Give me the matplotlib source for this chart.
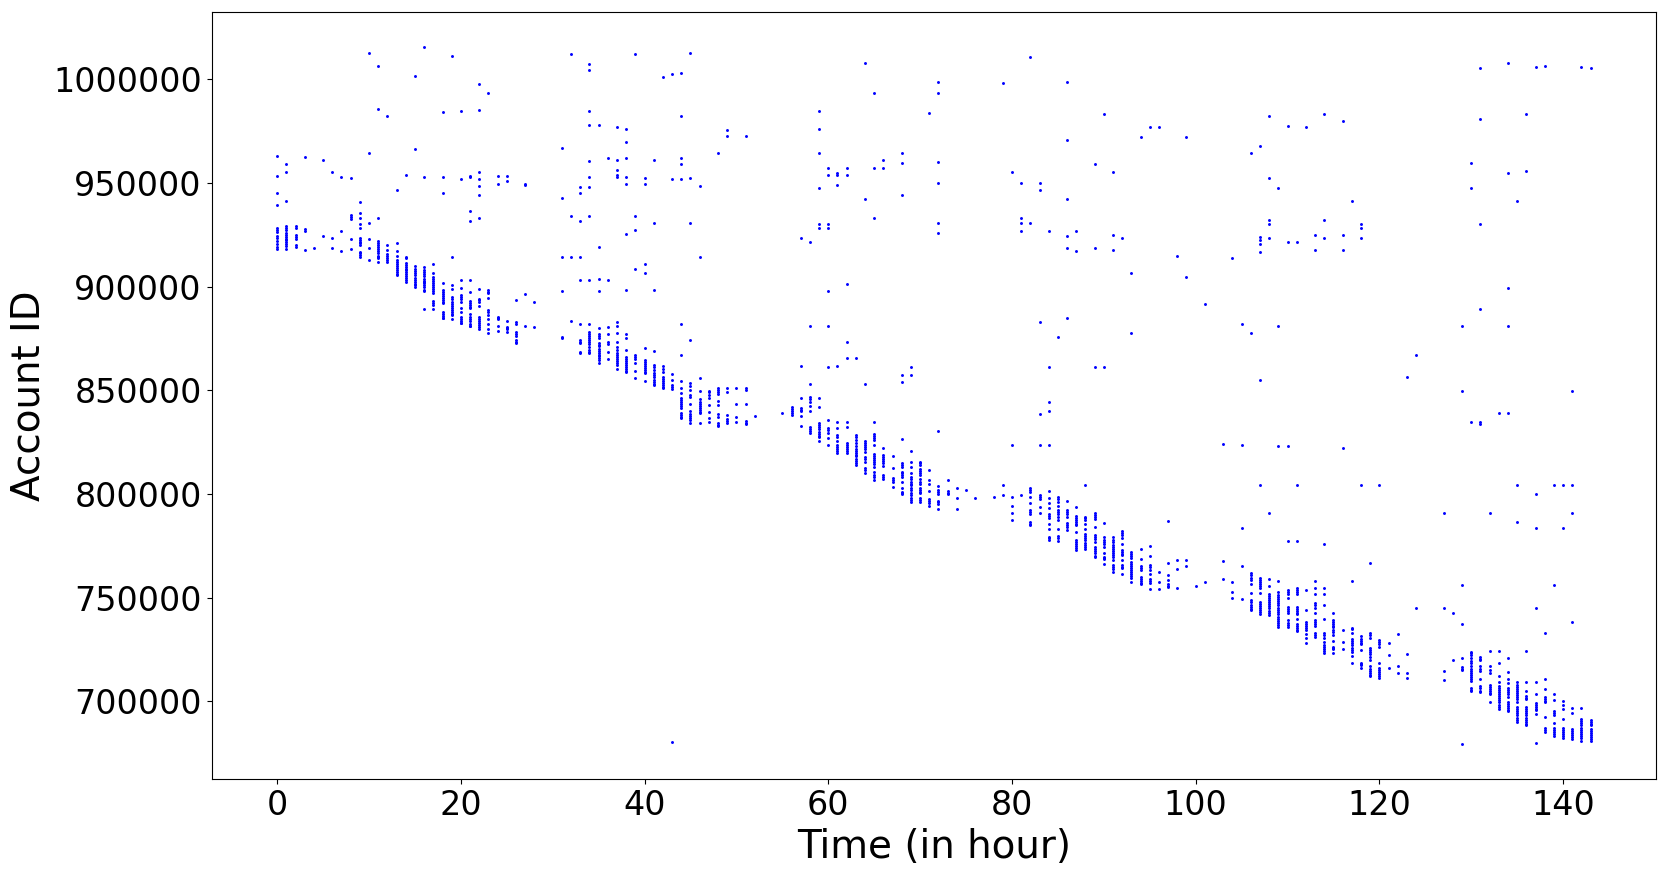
import matplotlib
matplotlib.use("Agg")
import matplotlib.pyplot as plt

# Account IDs in thousands, one list per hour
h0 = [962.9,953.2,945,939.3,928.3,927.3,926.2,924.6,923.5,922.2,920.4,919.3,918.3]
h1 = [959,955.2,941.2,929.3,928.3,927.2,926.1,925,924,923,922.5,921.4,920.5,919.5,918.2]
h2 = [929.2,928.5,925,924,923,919.9,919.3]
h3 = [962.4,927.7,926.6,917.5]
h4 = [918.5]
h5 = [961,924.3]
h6 = [955.2,923.3,918.5]
h7 = [952.8,926.7,917]
h8 = [952.3,934.4,933.6,932.8,922.8,918]
h9 = [940.7,935.4,933,930,928.1,923.3,922.4,921.5,920.8,920.1,916.9,916,915.2,914.5]
h10 = [1012.5,964.3,930.6,922.8,918.5,912.7]
h11 = [1006.3,985.5,933,922,921,920,919,918,917,916,915,914.2,913.7,911.7]
h12 = [982.2,920,917.5,915.6,914.6,913.6,912.7,911.8]
h13 = [946.5,920.9,917.4,914.6,912.9,912,911,910,909,908,907,906,905.5]
h14 = [953.7,914.5,913.7,911.6,910.6,909.6,908.6,907.8,907.2,906,905,904,903.2,902.4]
h15 = [1001.4,966.3,909.8,908.4,907.4,906.4,905.4,904.4,903.4,902.4,901.4,900.6,900]
h16 = [1015.4,952.8,909.3,907.9,906.9,905.9,904.9,903.9,902.9,902.4,901.6,900.6,899.6,898.6,898,889]
h17 = [910.8,906.4,904.8,903.8,902.8,901.8,900.8,899.8,898.8,897.8,896.8,893.3,892.2,891.2,889.1]
h18 = [984,952.8,945,901.6,898.4,897.4,896.4,895.4,894.4,893.4,892.4,892,888,887,886,885,884.8]
h19 = [1011,914.2,900.7,898.7,895,894,892.8,891.7,890.7,889.7,888.7,887.7,886.7,886.4,884.3]
h20 = [984.6,951.8,903,899.2,896,895,894,892.8,889.6,887.6,885.5,884.5,883.5,882.6,882.3]
h21 = [953.5,953,936.3,931.5,903,897.3,893.3,892.3,891.3,890.3,889.6,886.7,885.2,884.2,883.2,882.2,881.2,881]
h22 = [997.6,985,955.2,951.8,948.4,944.1,933,898.7,894.2,893.4,892.8,890.5,885.5,884.5,883.5,882.5,881.5,880.7,879.5]
h23 = [993.2,898.4,897.6,896.8,894.4,888.8,887.6,886.4,884.3,881.9,879.5,877.5]
h24 = [953.2,949.4,885.5,884.9,884.3,880.9,878.5]
h25 = [953.2,950.8,883.3,880.7,880,879.5,878]
h26 = [893.4,882.8,882.2,878,877.2,876.4,874.3,873.5,872.7]
h27 = [949.4,949,896.3,880.9]
h28 = [892.5,880.4]
h31 = [966.7,942.6,914.2,897.8,875.6,875]
h32 = [1012,934,914.2,883.3]
h33 = [947.9,945,931.5,914.2,903.1,881.9,874.3,873.5,872.7,868.7,868]
h34 = [1007.2,1004.3,984.6,977.8,960.5,952.8,947.9,934,903.1,881.9,878.3,877.3,876.3,875.3,874.3,873.3,872.3,871.1,869.5,868.7,867.9]
h35 = [977.8,919,903.6,897.8,880,877,876,875.1,872.7,872,871.4,869.8,869,868,867.2,866.6,865.5,864.5,863.4]
h36 = [961.9,903.1,880.4,877,873.5,872.4,868.4,865]
h37 = [976.9,960.9,956.1,953.9,952.8,882.8,880.9,877.5,873.5,871.1,869.2,868.2,867.2,866.2,865.2,864.2,863.2,862.3,860.2]
h38 = [975.9,969.6,961.9,952.8,949.4,925.6,898.3,877,875.1,869.3,866.3,865.3,864.3,863.3,862.3,861.3,860.3,859.3,858.6]
h39 = [1012,934,927.2,908.4,867,866,865,863,859.5,855.8]
h40 = [952.3,949.4,910.8,906.5,870.3,864.7,863.7,862.7,861.7,860.7,859.7,858.7,858.2,854.6]
h41 = [960.9,930.6,898.3,868.9,862.3,861.2,859.9,858.2,857.2,856.2,855.2,854.2,853.2,852.6]
h42 = [1001,861.5,860.2,859,856.6,855.6,854.6,853.6,852.6,851.6,851]
h43 = [1002.4,951.8,857.8,855,852.6,851.5,850.5,680.5]
h44 = [1002.9,982.2,961.9,959,951.8,881.9,867,854.7,851.3,848.6,846.2,845.2,844.2,843.2,842.2,841.4,839,838,837,836.6]
h45 = [1012.5,952.3,930.6,874.2,853.4,852.3,850,847.8,847,843.5,839.8,838.8,837.8,836.8,835.7,834.1]
h46 = [948.4,914.2,855.8,849.6,845.7,844.6,843.6,842.6,841.6,840.6,839.6,839,834.1]
h47 = [849.9,849,847.8,846.2,843,839.4,836.6,834.6]
h48 = [964.3,851,850,849,848.1,844.7,842.8,838.5,837.3,834.1,833.5,833]
h49 = [975.4,972.5,851,849.1,838,836,835,834.1]
h50 = [851,843.3,837,834.6]
h51 = [972.5,851,850,843.3,835.1,834.4,833.7]
h52 = [837.5]
h55 = [838.9]
h56 = [841.9,841,840,839,838.2]
h57 = [923.3,861.6,846.5,841.4,840.6,839.8,837.8,832.7]
h58 = [921.4,880.9,852.9,847,845.9,844.3,842.3,839.8,832.5,831.5,830.5,829.6]
h59 = [984.6,975.9,964.3,947.4,930.1,928.2,846.2,841.9,834.1,833.1,832.1,831.1,830.1,829.1,828.1,827.7,825.5]
h60 = [957.1,953.7,930.1,928.2,897.8,880.9,861.2,835.6,831.7,830.7,829.3,826.9,823.7]
h61 = [954.7,953.7,948.9,861.6,834.6,831.7,828.5,827.4,825.5,823.7,822.7,821.7,820.7,819.7]
h62 = [957.1,953.7,901.2,873.2,865.5,834.6,832.2,824.5,823.5,822.5,821.5,820.5,820]
h63 = [865.5,828.5,827.5,826.1,824.5,822.9,821.6,820.6,819.6,818.6,818.1,816.8,815.8,814.8,814.1]
h64 = [1007.7,942.1,852.9,825.5,824.5,823.5,822.5,821.5,820.4,818,816.8,815.6,812.4,811.4,810.3]
h65 = [993.2,957.1,933,834.5,828.9,828,827,826,823.5,819.3,818.3,817.3,816.3,815.3,814.3,813.2,810.8,809.2,808,806.8]
h66 = [960.9,957.1,822,818.8,817.8,816.8,815.8,814.8,813.5,809.3,808.2,807.1]
h67 = [818.2,812.4,807.6,806.6,805.6,803.2]
h68 = [964.3,959.5,944.1,857.2,853.8,826.4,814.8,814,813.2,810.8,810,809.2,808.4,805.6,802.7,801.1,800.5,799.8]
h69 = [861.2,857.2,820.6,815.3,812.9,810,808,807,806,805,804.3,802.7,801.7,800.7,799.5,797.9,797,796.3]
h70 = [815.6,814.8,814,811.9,811,810,809.2,807,806,804.8,803,802,801,800.3,798.2,797,796]
h71 = [983.6,811.4,806.6,804.7,801.4,797.4,796.4,795.5,794]
h72 = [998.6,993.2,960,949.9,930.6,925.8,830.2,803.7,801.9,800.9,799.8,796.6,795.9,795.2,792.6]
h73 = [806.6,801.4,800.6,799.8]
h74 = [802.7,797.9,792.6]
h75 = [801.8]
h76 = [797.9]
h78 = [798.4]
h79 = [998.1,804.2,799.4]
h80 = [955.2,823.5,798.4,794,790.7,787.3]
h81 = [949.9,933,930.6,926.7,799.4]
h82 = [1010.6,930.6,802.7,801.9,801.1,798.4,795.5,792.3,791.3,790.4,786.3,785.6,785]
h83 = [949.9,946.5,882.8,838.4,823.5,799.5,798.5,797.4,793.6,790.7]
h84 = [926.7,861,844.2,839.9,823.5,801.3,797.9,795.5,793.1,790.4,789.3,788.3,785.4,783,779.4,778.6,777.8]
h85 = [875.6,798.4,797.4,796.3,794.2,792.3,791.3,790.3,789.1,787.3,783,779.8,778.8,777.4]
h86 = [998.6,970.6,942.1,924.3,918.5,884.8,796.5,792.3,791.3,790.4,788.7,785.9,784.9,783.9,782.7]
h87 = [926.7,917.1,793.6,789.6,788.6,787.6,786.6,785.6,785,781.8,777.8,776.8,775.8,774.8,773.8,773]
h88 = [804.2,789.1,788.3,787.5,785.4,783,780.7,779.7,778.7,777.8,776.2,775.2,774.2,773.3]
h89 = [959,918.5,861.2,790.7,789.7,788.7,787.8,784.3,780.2,779.2,778.2,777,774.3,773.3,772.3,771.3,770.3,769.5]
h90 = [983.1,861.2,785.9,779.4,777.8,776.8,775.8,774.6,771.4,769.5,769,768.5,766.1]
h91 = [955.2,924.8,917.6,779.1,778,777,775.4,774.4,773.4,772.4,771.4,770.4,769.4,768.2,765.8,764.8,763.8,762.6]
h92 = [923.3,782.3,781.3,780.2,778.6,775.9,773,772,771,770.6,768.2,765.8,765,764.2,761.3]
h93 = [906.5,877.5,772.2,771.2,770.2,769,767.4,766.4,765.4,764.4,763.4,762.4,761.4,760.4,759.4,757.4]
h94 = [972,773.3,768.5,765.3,764.3,763.4,760.2,759.2,758.2,757.2,756.6]
h95 = [976.9,774.8,770,765.8,764.6,763.4,761.3,758.9,758,757,754]
h96 = [976.9,762.2,757.4,754]
h97 = [786.8,766.6,760.8,758.4,756.5,755.7,755]
h98 = [914.7,768,763.7,754.5]
h99 = [972,904.5,768,765.1]
h100 = [755.5]
h101 = [891.5,757.4]
h103 = [823.9,767.5,758.9]
h104 = [913.7,757.4,752.6,749.7]
h105 = [881.9,823.5,783.5,765.1,749.4]
h106 = [964.3,877.5,761.8,760.8,759.4,758.6,756.5,752.2,748.9,748.1,746.5,745.5,744.6,744.1]
h107 = [967.7,924.1,922.6,920.7,916.9,854.8,804.2,759.4,758.4,757.4,756.4,755.4,754.6,752.2,748.1,747,746,745,744,743,742]
h108 = [982.2,952.3,932,930.1,923.3,790.7,758.9,755.7,751.8,750.8,749.8,748.8,747.8,746.8,745.8,744.8,743.8,742.8,741.7]
h109 = [947.4,880.9,823,757.9,752.5,751.5,750.5,749.5,748.5,747.5,746.5,744.9,743.9,742.9,741.9,740.9,739.9,738.9,737.9,736.9,735.8]
h110 = [977.3,921.4,823,777.2,753.8,752.8,751.8,749.7,745.7,744.7,743.7,742.5,739,738,737,735.8]
h111 = [921.4,804.2,777.2,754.6,753.6,752.6,751.8,745.7,744.7,743.7,742.7,742,739.6,737.4,736.4,735.4,734.4,733.7]
h112 = [976.9,753.6,743.9,738.5,737.5,736.5,735.5,734.5,732.4,730.5,728]
h113 = [924.8,917.6,757.9,754.5,751.6,747.3,746.3,744.9,742.5,739.3,738.3,737.3,736.1,732.9,731.9,730.8]
h114 = [983.1,932,923.3,775.7,754.6,751.7,746.4,739.6,732.9,732,730.5,728.4,727.4,726.4,725.4,724.4,723.5]
h115 = [742.5,739.3,738.3,737.3,736.3,735.8,734.2,733.2,732,729.3,726.4,725.7,725.1,723.2]
h116 = [979.8,924.8,917.6,822,734.2,728.5,725.1]
h117 = [941.2,757.9,735.5,735.1,732.9,730,729,728,727.2,725.6,724.6,723.7,721.8,718.7]
h118 = [930.1,928.2,923.3,804.2,731.3,730.3,729.3,728.3,727.7,724.8,718.7,718.1,717.6,716]
h119 = [766.6,732.9,731.9,730.5,725.6,724.6,723.6,722.6,721.6,720,716.8,715.8,714.8,713.8,712.8,712.3]
h120 = [804.2,729.7,728.7,727.7,726.1,718.7,716,715,714,713,712,711.2]
h121 = [728,722.3,716]
h122 = [732.4,717,713.6]
h123 = [856.2,722.7,713.6,711.2]
h124 = [867,744.9]
h127 = [790.7,744.9,714.5,710.2]
h128 = [742.5,719.8]
h129 = [880.9,849.5,756,737.2,720.8,716.5,715.8,715.2,679.4]
h130 = [959.5,947.4,834.5,724,723.2,722.4,720.8,719.6,718.4,716.8,715.8,714.8,713.8,712.8,711.8,710.8,709.6,706.3,705.7,705.2]
h131 = [1005.3,980.7,930.1,889.1,834.5,833.6,721.3,720.6,720,716.8,715.8,714.7,710.7,707.2,706.2,705.2,704.7]
h132 = [790.7,724.2,717,714.9,713.9,708,707,706,705,704,703.6,699.6]
h133 = [838.9,724.2,718.4,712.1,709.1,707.5,706.5,705.5,704.5,703.5,702.5,701.5,700.5,699.9,698.3,697.3,696.2]
h134 = [1007.7,954.7,899.2,880.9,838.9,720.8,714.1,710.7,708.8,706.4,705.4,704.4,703.4,702.3,699.6,698.6,697.6,696.6,695.6,695.1]
h135 = [941.2,804.2,786.3,709.1,708.1,707.1,706.1,705.1,704.1,703.1,702.1,701.1,699.9,697.2,696.2,695.2,694.2,693.2,692.2,691.2,690]
h136 = [983.1,955.6,724.2,709.1,704.9,702.6,701.8,701,697.2,696.2,695.2,694.2,693.2,692.2,691.2,690.2,689.2,688.4]
h137 = [1005.8,799.8,783.5,744.9,709.2,703.5,699.4,698.4,697.4,696.4,695.9,693.8,679.8]
h138 = [1006.3,732.9,710.7,705.9,702.3,701.3,700.3,699.6,692.4,687.1,686.1,685.1]
h139 = [804.2,756,703.5,700.6,695.1,694.3,693.5,689.5,687.1,686.1,685.1,684.1,683.5]
h140 = [804.2,783.5,700.4,698.2,696.2,691.7,687.1,686.1,685.1,684.1,683.1,682.2]
h141 = [849.5,804.2,790.7,738.2,696.7,694.3,686.7,685.7,684.7,683.7,682.7,681.8]
h142 = [1005.8,696.7,691.6,690.6,689.6,688.4,687.1,686.1,685.1,684.1,683.1,682.1,681]
h143 = [1005.3,691.1,690.1,689.1,688.4,686.6,685.6,684.6,683.6,682.6,681.6,681]

hours = [i for i in range(144) if f"h{i}" in globals()]
columns = [globals()[f"h{i}"] for i in hours]
x_ticks = [0, 20, 40, 60, 80, 100, 120, 140]
y_ticks = [700000, 750000, 800000, 850000, 900000, 950000, 1000000]

xs = [h for h, col in zip(hours, columns) for _ in col]
ys = [v * 1000 for col in columns for v in col]

W, H = 1662, 874
fig = plt.figure(figsize=(W / 100, H / 100), dpi=100)
ax = fig.add_axes([211.5 / W, (H - 779.3) / H, (1656.3 - 211.5) / W, (779.3 - 12.3) / H])
ax.scatter(xs, ys, s=4.5, c="b", linewidths=0)
ax.set_xlim(-7.15, 150.15)
ax.set_ylim(662400, 1032300)
ax.set_xticks(x_ticks)
ax.set_yticks(y_ticks)
ax.ticklabel_format(style="plain", axis="y", useOffset=False)
ax.tick_params(labelsize=24)
ax.set_xlabel("Time (in hour)", fontsize=28)
ax.set_ylabel("Account ID", fontsize=28)
fig.savefig("out.png", dpi=100)
